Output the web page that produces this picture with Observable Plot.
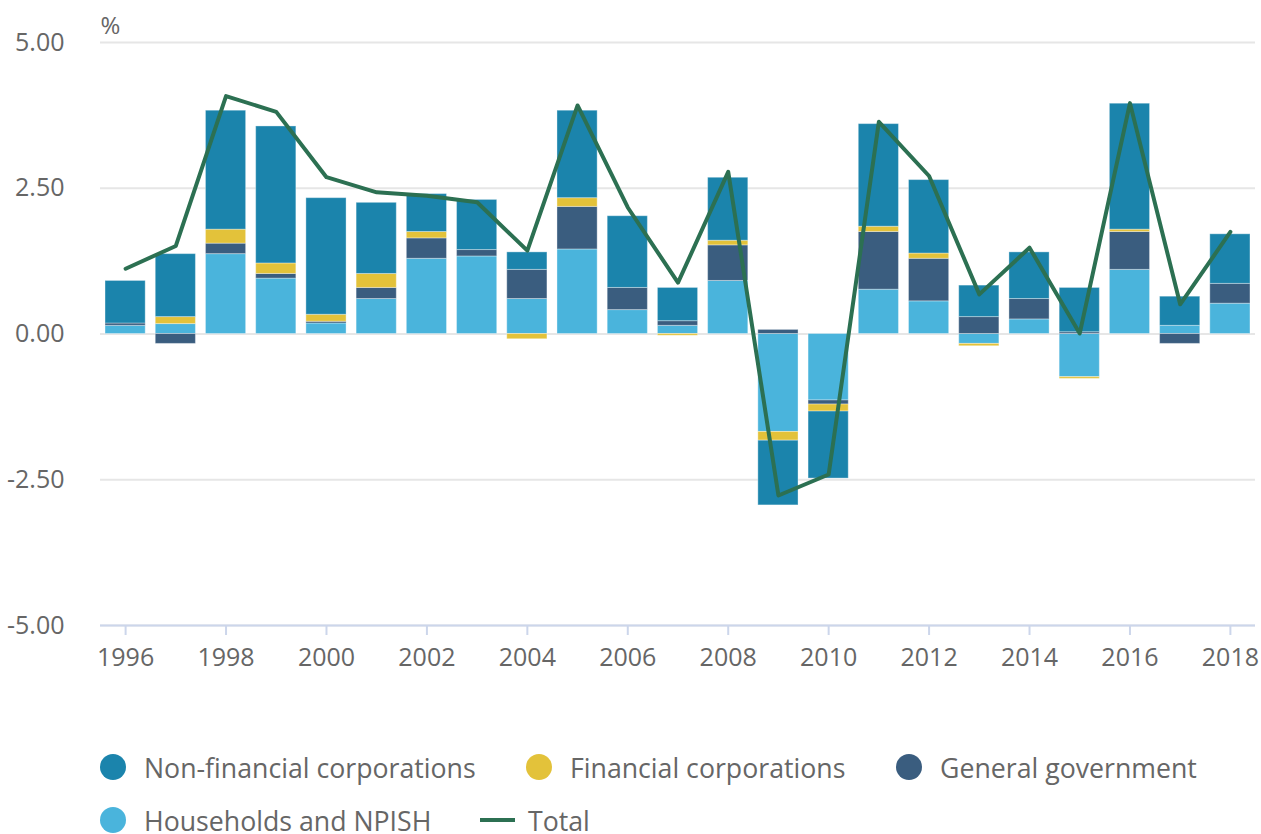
<!DOCTYPE html>
<html><head><meta charset="utf-8">
<script src="https://cdn.jsdelivr.net/npm/d3@7"></script>
<script src="https://cdn.jsdelivr.net/npm/@observablehq/plot@0.6"></script>
<style>
body{margin:0;background:#fff;font-family:"Open Sans",sans-serif;}
#wrap{position:relative;width:1261px;height:834px;overflow:hidden}
#chart{position:absolute;left:0;top:0}
.leg{position:absolute;display:flex;align-items:center;height:34px;font-size:26.7px;color:#666;white-space:nowrap}
.dot{width:26px;height:26px;border-radius:50%;margin-right:18px;flex:none}
.ln{width:35px;height:4px;margin-right:13px;flex:none}
</style></head><body><div id="wrap"><div id="chart"></div></div>
<script>
const years = [1996,1997,1998,1999,2000,2001,2002,2003,2004,2005,2006,2007,2008,2009,2010,2011,2012,2013,2014,2015,2016,2017,2018];
const seriesNames = ["Households and NPISH","General government","Financial corporations","Non-financial corporations"];
const households   = [0.14,0.17,1.37,0.95,0.18,0.60,1.29,1.33,0.60,1.45,0.41,0.14,0.91,-1.68,-1.14,0.76,0.56,-0.17,0.25,-0.74,1.10,0.14,0.52];
const government   = [0.04,-0.17,0.18,0.08,0.03,0.19,0.35,0.11,0.50,0.73,0.38,0.08,0.61,0.07,-0.07,0.99,0.73,0.29,0.35,0.03,0.65,-0.17,0.34];
const financial    = [0,0.12,0.24,0.18,0.12,0.24,0.11,0,-0.09,0.15,0,-0.03,0.08,-0.15,-0.12,0.09,0.09,-0.04,0,-0.03,0.04,0,0];
const nonFinancial = [0.73,1.08,2.04,2.35,2.00,1.22,0.65,0.86,0.30,1.50,1.23,0.57,1.08,-1.11,-1.15,1.76,1.26,0.54,0.80,0.76,2.16,0.50,0.85];
const total        = [1.12,1.51,4.08,3.81,2.69,2.43,2.37,2.26,1.43,3.92,2.17,0.88,2.78,-2.77,-2.41,3.64,2.71,0.68,1.48,0.01,3.96,0.51,1.75];
const yTicks = [-5,-2.5,0,2.5,5];
const xTickYears = years.filter(y => y % 2 === 0);
const seriesColors = ["#4ab4dc","#3a5d7f","#e3c23a","#1b84ac"];
const totalColor = "#2c7052";

const seriesValues = [households, government, financial, nonFinancial];
const table = [];
years.forEach((yr, i) => {
  seriesNames.forEach((s, j) => {
    const v = seriesValues[j][i];
    if (v !== 0) table.push({year: yr, series: s, value: v});
  });
});
const totalTable = years.map((yr, i) => ({year: yr, value: total[i]}));

const chart = Plot.plot({
  width: 1261, height: 700,
  marginTop: 42, marginBottom: 75, marginLeft: 100, marginRight: 6,
  style: {fontFamily: "'Open Sans', sans-serif", fontSize: "25px", color: "#666", background: "transparent"},
  x: {type: "band", domain: years, paddingInner: 0.2, paddingOuter: 0.1, round: false, label: null},
  y: {domain: [-5, 5], label: null},
  color: {domain: seriesNames, range: seriesColors},
  marks: [
    Plot.gridY(yTicks, {stroke: "#e6e6e6", strokeOpacity: 1, strokeWidth: 2}),
    Plot.axisY(yTicks, {tickSize: 0, tickPadding: 36, tickFormat: d => d.toFixed(2), label: null, fill: "#666", fontSize: 25}),
    Plot.ruleY([-5], {stroke: "#ccd6eb", strokeWidth: 2}),
    Plot.axisX(xTickYears, {tickSize: 10, tickPadding: 13, stroke: "#ccd6eb", strokeWidth: 2, fill: "#666", fontSize: 25, tickFormat: d => String(d), label: null}),
    Plot.barY(table, {x: "year", y: "value", fill: "series", stroke: "white", strokeOpacity: 0.35, strokeWidth: 1}),
    Plot.lineY(totalTable, {x: "year", y: "value", stroke: totalColor, strokeWidth: 4}),
    Plot.text(["%"], {frameAnchor: "top-left", textAnchor: "start", lineAnchor: "bottom", dy: -9, fontSize: 24, fill: "#666"})
  ]
});
document.getElementById("chart").appendChild(chart);

// legend
const legendItems = [
  {label: "Non-financial corporations", color: seriesColors[3], kind: "dot", left: 100, top: 750},
  {label: "Financial corporations", color: seriesColors[2], kind: "dot", left: 526, top: 750},
  {label: "General government", color: seriesColors[1], kind: "dot", left: 896, top: 750},
  {label: "Households and NPISH", color: seriesColors[0], kind: "dot", left: 100, top: 803},
  {label: "Total", color: totalColor, kind: "ln", left: 480, top: 803}
];
const wrap = document.getElementById("wrap");
legendItems.forEach(it => {
  const d = document.createElement("div");
  d.className = "leg";
  d.style.left = it.left + "px";
  d.style.top = it.top + "px";
  const sw = document.createElement("span");
  sw.className = it.kind;
  sw.style.background = it.color;
  const t = document.createElement("span");
  t.textContent = it.label;
  d.appendChild(sw); d.appendChild(t);
  wrap.appendChild(d);
});
</script>
</body></html>
